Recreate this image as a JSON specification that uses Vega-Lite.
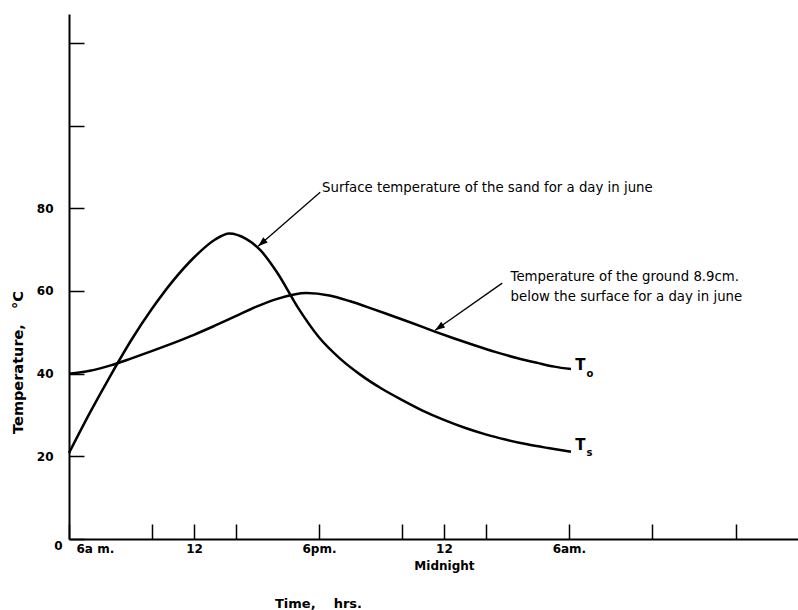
{
  "$schema": "https://vega.github.io/schema/vega-lite/v6.json",
  "width": 729,
  "height": 525,
  "autosize": {"type": "none"},
  "padding": {"left": 69, "top": 14, "right": 0, "bottom": 71},
  "background": "white",
  "config": {"view": {"stroke": null}, "font": "DejaVu Sans"},
  "datasets": {
    "curves": [
      {"series": "Ts", "h": 0, "T": 20.8},
      {"series": "Ts", "h": 1, "T": 30.5},
      {"series": "Ts", "h": 2, "T": 39.6},
      {"series": "Ts", "h": 3, "T": 48.2},
      {"series": "Ts", "h": 4, "T": 55.8},
      {"series": "Ts", "h": 5, "T": 62.5},
      {"series": "Ts", "h": 6, "T": 68.1},
      {"series": "Ts", "h": 7, "T": 72.4},
      {"series": "Ts", "h": 7.7, "T": 73.9},
      {"series": "Ts", "h": 8.5, "T": 72.6},
      {"series": "Ts", "h": 9.2, "T": 69.8},
      {"series": "Ts", "h": 10, "T": 64.4},
      {"series": "Ts", "h": 11, "T": 55.9},
      {"series": "Ts", "h": 12, "T": 48.8},
      {"series": "Ts", "h": 13, "T": 43.7},
      {"series": "Ts", "h": 14, "T": 39.7},
      {"series": "Ts", "h": 15, "T": 36.4},
      {"series": "Ts", "h": 16, "T": 33.6},
      {"series": "Ts", "h": 17, "T": 31.0},
      {"series": "Ts", "h": 18, "T": 28.8},
      {"series": "Ts", "h": 19, "T": 26.9},
      {"series": "Ts", "h": 20, "T": 25.3},
      {"series": "Ts", "h": 21, "T": 24.0},
      {"series": "Ts", "h": 22, "T": 22.9},
      {"series": "Ts", "h": 23, "T": 22.0},
      {"series": "Ts", "h": 24.1, "T": 21.1},
      {"series": "To", "h": 0, "T": 40},
      {"series": "To", "h": 1, "T": 40.7},
      {"series": "To", "h": 2, "T": 42.0},
      {"series": "To", "h": 3, "T": 43.7},
      {"series": "To", "h": 4, "T": 45.5},
      {"series": "To", "h": 5, "T": 47.4},
      {"series": "To", "h": 6, "T": 49.4},
      {"series": "To", "h": 7, "T": 51.6},
      {"series": "To", "h": 8, "T": 53.9},
      {"series": "To", "h": 9, "T": 56.2},
      {"series": "To", "h": 10, "T": 58.1},
      {"series": "To", "h": 11.4, "T": 59.5},
      {"series": "To", "h": 12.5, "T": 58.9},
      {"series": "To", "h": 13.5, "T": 57.5},
      {"series": "To", "h": 14.5, "T": 55.8},
      {"series": "To", "h": 15.5, "T": 54.0},
      {"series": "To", "h": 16.5, "T": 52.2},
      {"series": "To", "h": 17.5, "T": 50.3},
      {"series": "To", "h": 18.5, "T": 48.5},
      {"series": "To", "h": 19.5, "T": 46.8},
      {"series": "To", "h": 20.5, "T": 45.2},
      {"series": "To", "h": 21.5, "T": 43.8},
      {"series": "To", "h": 22.5, "T": 42.6},
      {"series": "To", "h": 23.3, "T": 41.7},
      {"series": "To", "h": 24.1, "T": 41.1}
    ],
    "arrows": [
      {"arrow": "a1", "h": 12.06, "T": 83.9},
      {"arrow": "a1", "h": 9.08, "T": 70.8},
      {"arrow": "a2", "h": 20.8, "T": 61.9},
      {"arrow": "a2", "h": 17.58, "T": 50.5}
    ],
    "notes": [
      {"note": "sand", "h": 12.15, "T": 84.8, "text": "Surface temperature of the sand for a day in june"},
      {"note": "ground", "h": 21.2, "T": 63.3, "text": ["Temperature of the ground 8.9cm.", "below the surface for a day in june"]}
    ],
    "tlabels": [
      {"kind": "T", "h": 24.3, "T": 42, "text": "T"},
      {"kind": "T", "h": 24.3, "T": 22.7, "text": "T"},
      {"kind": "sub", "h": 24.85, "T": 40.0, "text": "o"},
      {"kind": "sub", "h": 24.85, "T": 20.8, "text": "s"}
    ]
  },
  "layer": [
    {
      "data": {"name": "curves"},
      "mark": {"type": "line", "color": "black", "strokeWidth": 2.5, "interpolate": "monotone"},
      "encoding": {
        "x": {
          "field": "h", "type": "quantitative",
          "scale": {"domain": [0, 35], "nice": false, "zero": false},
          "axis": {
            "title": "Time,\u00a0\u00a0\u00a0\u00a0hrs.",
            "titleX": 249, "titleY": 64, "titleAlign": "center", "titleBaseline": "middle",
            "titleFont": "DejaVu Sans", "titleFontSize": 13, "titleFontWeight": "bold", "titleColor": "black",
            "values": [0, 4, 6, 8, 12, 16, 18, 20, 24, 28, 32],
            "labelExpr": "datum.value == 0 ? '6a m.' : datum.value == 6 ? '12' : datum.value == 12 ? '6pm.' : datum.value == 18 ? ['12', 'Midnight'] : datum.value == 24 ? '6am.' : ''",
            "labelFlush": true,
            "labelOffset": {"condition": {"test": "datum.value == 0", "value": 7}, "value": 0},
            "labelFontSize": 12, "labelFontWeight": "bold", "labelColor": "black",
            "labelLineHeight": 17, "labelPadding": 19,
            "tickSize": -15, "tickColor": "black", "tickWidth": 1.5,
            "domainColor": "black", "domainWidth": 2, "grid": false
          }
        },
        "y": {
          "field": "T", "type": "quantitative",
          "scale": {"domain": [0, 127], "nice": false},
          "axis": {
            "title": "Temperature,\u00a0\u00a0\u00a0°C",
            "titleX": -51, "titleY": 348, "titleAlign": "center", "titleBaseline": "middle", "titleAngle": -90,
            "titleFont": "DejaVu Sans", "titleFontSize": 14.5, "titleFontWeight": "bold", "titleColor": "black",
            "values": [0, 20, 40, 60, 80, 100, 120],
            "labelExpr": "datum.value <= 80 ? datum.label : ''",
            "labelFontSize": 12, "labelFontWeight": "bold", "labelColor": "black",
            "labelPadding": {"condition": {"test": "datum.value == 0", "value": 22}, "value": 31},
            "labelOffset": {"condition": {"test": "datum.value == 0", "value": 6}, "value": 0},
            "tickSize": -15, "tickColor": "black", "tickWidth": 1.5,
            "domainColor": "black", "domainWidth": 2, "grid": false
          }
        },
        "detail": {"field": "series"}
      }
    },
    {
      "data": {"name": "arrows"},
      "mark": {"type": "line", "color": "black", "strokeWidth": 1.3},
      "encoding": {
        "x": {"field": "h", "type": "quantitative"},
        "y": {"field": "T", "type": "quantitative"},
        "detail": {"field": "arrow"}
      }
    },
    {
      "data": {"name": "arrows"},
      "transform": [{"filter": "datum.arrow == 'a1' && datum.h < 10"}],
      "mark": {"type": "point", "shape": "M0,0L-0.35,1L0.35,1Z", "filled": true, "color": "black", "opacity": 1, "size": 380, "angle": 229},
      "encoding": {
        "x": {"field": "h", "type": "quantitative"},
        "y": {"field": "T", "type": "quantitative"}
      }
    },
    {
      "data": {"name": "arrows"},
      "transform": [{"filter": "datum.arrow == 'a2' && datum.h < 18"}],
      "mark": {"type": "point", "shape": "M0,0L-0.35,1L0.35,1Z", "filled": true, "color": "black", "opacity": 1, "size": 380, "angle": 235},
      "encoding": {
        "x": {"field": "h", "type": "quantitative"},
        "y": {"field": "T", "type": "quantitative"}
      }
    },
    {
      "data": {"name": "notes"},
      "mark": {"type": "text", "align": "left", "baseline": "middle", "fontSize": 13.3, "color": "black", "lineHeight": 20},
      "encoding": {
        "x": {"field": "h", "type": "quantitative"},
        "y": {"field": "T", "type": "quantitative"},
        "text": {"field": "text"}
      }
    },
    {
      "data": {"name": "tlabels"},
      "transform": [{"filter": "datum.kind == 'T'"}],
      "mark": {"type": "text", "align": "left", "baseline": "middle", "fontSize": 15, "fontWeight": "bold", "color": "black"},
      "encoding": {
        "x": {"field": "h", "type": "quantitative"},
        "y": {"field": "T", "type": "quantitative"},
        "text": {"field": "text"}
      }
    },
    {
      "data": {"name": "tlabels"},
      "transform": [{"filter": "datum.kind == 'sub'"}],
      "mark": {"type": "text", "align": "left", "baseline": "middle", "fontSize": 10, "fontWeight": "bold", "color": "black"},
      "encoding": {
        "x": {"field": "h", "type": "quantitative"},
        "y": {"field": "T", "type": "quantitative"},
        "text": {"field": "text"}
      }
    }
  ]
}
